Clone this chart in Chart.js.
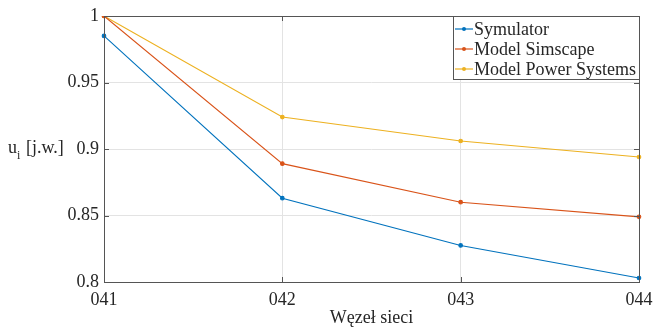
<!DOCTYPE html>
<html>
<head>
<meta charset="utf-8">
<script src="https://cdn.jsdelivr.net/npm/chart.js@4/dist/chart.umd.min.js"></script>
<style>
  html, body { margin: 0; padding: 0; background: #fff; }
  #wrap { width: 654px; height: 327px; }
</style>
</head>
<body>
<div id="wrap"><canvas id="myChart"></canvas></div>
<script>
let nodes = ['041', '042', '043', '044']
let symulator = [0.985, 0.863, 0.8275, 0.803]
let simscape = [1.0, 0.889, 0.860, 0.849]
let powerSystems = [1.0, 0.924, 0.906, 0.894]
let seriesNames = ['Symulator', 'Model Simscape', 'Model Power Systems']
let yTicks = [0.8, 0.85, 0.9, 0.95, 1]

let colors = ['#0072BD', '#D95319', '#EDB120']
let axisColor = '#555555'
let font = '"Liberation Serif", "Times New Roman", serif'

const frame = {
    id: 'frame',
    afterDraw: (chart) => {
        const {ctx, chartArea: a} = chart
        ctx.save()
        ctx.strokeStyle = axisColor
        ctx.lineWidth = 1
        ctx.strokeRect(a.left + 0.5, a.top + 0.5, a.right - a.left, a.bottom - a.top)

        // inward ticks
        let ys = chart.scales.y
        ctx.beginPath()
        for (let v of yTicks) {
            let y = Math.round(ys.getPixelForValue(v)) + 0.5
            ctx.moveTo(a.left, y); ctx.lineTo(a.left + 5, y)
            ctx.moveTo(a.right, y); ctx.lineTo(a.right - 5, y)
        }
        let xs = chart.scales.x
        for (let i = 0; i < nodes.length; i++) {
            let x = Math.round(xs.getPixelForValue(i)) + 0.5
            ctx.moveTo(x, a.bottom); ctx.lineTo(x, a.bottom - 5)
            ctx.moveTo(x, a.top); ctx.lineTo(x, a.top + 5)
        }
        ctx.stroke()

        // axis titles
        ctx.fillStyle = '#262626'
        ctx.font = '18px ' + font
        ctx.textAlign = 'center'
        ctx.textBaseline = 'middle'
        ctx.fillText('Węzeł sieci', (a.left + a.right) / 2, 318)
        ctx.textAlign = 'left'
        ctx.fillText('u', 8, 148)
        ctx.fillText('[j.w.]', 26, 148)
        ctx.font = '12px ' + font
        ctx.fillText('i', 17, 156)

        // legend
        let lx = 453, ly = 16, lw = 186, lh = 63
        ctx.fillStyle = '#fff'
        ctx.fillRect(lx, ly, lw, lh)
        ctx.strokeStyle = axisColor
        ctx.strokeRect(lx + 0.5, ly + 0.5, lw, lh)
        ctx.font = '18px ' + font
        for (let i = 0; i < seriesNames.length; i++) {
            let y = ly + 13 + i * 20
            ctx.strokeStyle = colors[i]
            ctx.lineWidth = 1.2
            ctx.beginPath()
            ctx.moveTo(lx + 2, y); ctx.lineTo(lx + 20, y)
            ctx.stroke()
            ctx.fillStyle = colors[i]
            ctx.beginPath()
            ctx.arc(lx + 11, y, 2, 0, Math.PI * 2)
            ctx.fill()
            ctx.fillStyle = '#262626'
            ctx.fillText(seriesNames[i], lx + 21, y + 1)
        }
        ctx.restore()
    }
}

let allSeries = [symulator, simscape, powerSystems]
let datasets = allSeries.map((vals, i) => ({
    label: seriesNames[i],
    data: vals,
    borderColor: colors[i],
    backgroundColor: colors[i],
    borderWidth: 1.1,
    pointRadius: 1.8,
    pointHoverRadius: 1.8,
    tension: 0
}))

new Chart(document.getElementById('myChart'), {
    type: 'line',
    data: { labels: nodes, datasets: datasets },
    plugins: [frame],
    options: {
        responsive: true,
        maintainAspectRatio: false,
        animation: false,
        layout: { padding: { top: 16, right: 15, left: 0, bottom: 0 } },
        plugins: { legend: { display: false }, tooltip: { enabled: false } },
        scales: {
            x: {
                offset: false,
                grid: { color: '#e3e3e3', drawTicks: false },
                border: { display: false },
                ticks: { color: '#262626', font: { family: font, size: 18 }, padding: 7, maxRotation: 0 },
                afterFit: (s) => { s.height = 45; s.paddingLeft = 0; s.paddingRight = 0 }
            },
            y: {
                min: 0.8,
                max: 1,
                grid: { color: '#e3e3e3', drawTicks: false },
                border: { display: false },
                afterBuildTicks: (s) => { s.ticks = yTicks.map(v => ({ value: v })) },
                ticks: {
                    color: '#262626',
                    font: { family: font, size: 18 },
                    padding: 5,
                    callback: (v) => String(Number(v.toFixed(2)))
                },
                afterFit: (s) => { s.width = 104; s.paddingTop = 0; s.paddingBottom = 0 }
            }
        }
    }
})
</script>
</body>
</html>
